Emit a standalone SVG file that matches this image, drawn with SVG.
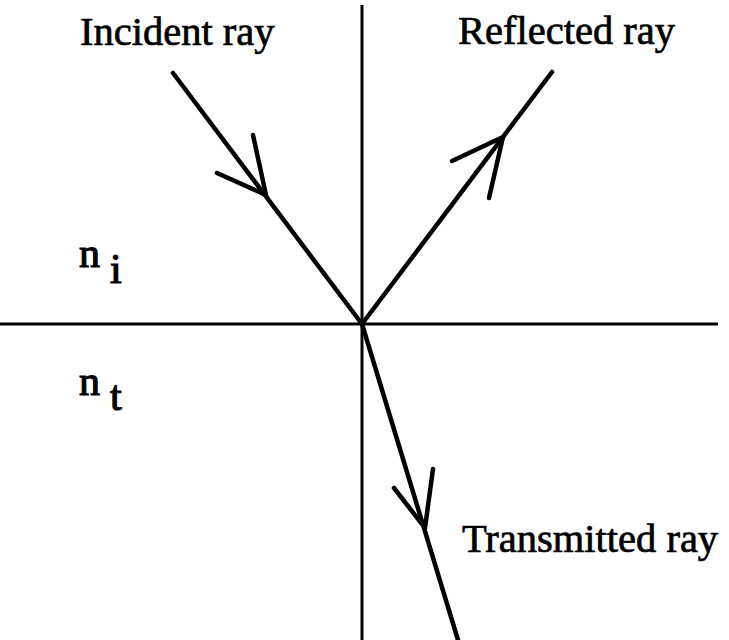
<svg xmlns="http://www.w3.org/2000/svg" width="729" height="640" viewBox="0 0 729 640">
<style>
.ax{stroke:#000;stroke-width:3;fill:none}
.ray{stroke:#000;stroke-width:4.5;fill:none;stroke-linecap:round;stroke-linejoin:miter}
text{font-family:"Liberation Serif","Times New Roman",serif;font-size:40.5px;fill:#000;stroke:#000;stroke-width:0.7}
.sym{font-size:42px;stroke-width:1.2}
</style>
<rect width="729" height="640" fill="#fff"/>
<g id="axes">
<line class="ax" x1="362" y1="5" x2="362" y2="640"/>
<line class="ax" x1="0" y1="324" x2="718" y2="324"/>
</g>
<g id="connectors">
<g id="incident">
<line class="ray" x1="173" y1="73" x2="362" y2="324"/>
<polyline class="ray" points="253,135 266,195 217,173"/>
</g>
<g id="reflected">
<line class="ray" x1="362" y1="324" x2="552" y2="72"/>
<polyline class="ray" points="452,161 503,137 489,198"/>
</g>
<g id="transmitted">
<line class="ray" x1="362" y1="324" x2="458" y2="640"/>
<polyline class="ray" points="394,488 425,528 433,469"/>
</g>
</g>
<g id="labels">
<text x="80" y="45">Incident ray</text>
<text x="458" y="44">Reflected ray</text>
<text x="462" y="552">Transmitted ray</text>
<text class="sym" x="79" y="267">n</text>
<text class="sym" x="110" y="283">i</text>
<text class="sym" x="79" y="395">n</text>
<text class="sym" x="110" y="410">t</text>
</g>
</svg>
